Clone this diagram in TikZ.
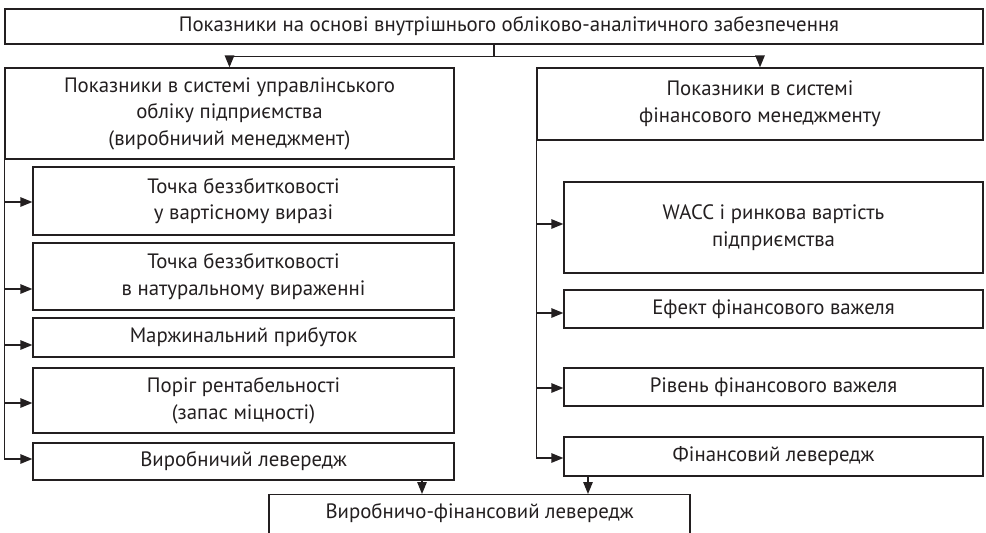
\documentclass[tikz,border=0pt]{standalone}
\usepackage{fontspec}
\setmainfont{PT Sans}
\usetikzlibrary{arrows.meta}
\definecolor{ink}{HTML}{231F20}
\tikzset{
  bx/.style={draw=ink, line width=1.3pt, text=ink, inner sep=0pt, align=center,
    font=\fontsize{20.8}{26.5}\selectfont},
  arr/.style={draw=ink, line width=1.3pt, -{Triangle[length=12pt,width=9.5pt]}},
  ln/.style={draw=ink, line width=1.3pt}
}
\begin{document}
\begin{tikzpicture}[x=1pt,y=-1pt]
\useasboundingbox (0,0) rectangle (986,533);
\node[bx, minimum width=978pt, minimum height=35pt] (top) at (494,26.5) {\hspace*{30pt}Показники на основі внутрішнього обліково-аналітичного забезпечення};
\node[bx, minimum width=449pt, minimum height=91pt] (L) at (229.5,113.5) {Показники в системі управлінського\\обліку підприємства\\(виробничий менеджмент)};
\node[bx, minimum width=446pt, minimum height=72pt] (R) at (760,104) {Показники в системі\\фінансового менеджменту};
\node[bx, minimum width=421pt, minimum height=68pt] (L1) at (243.5,201) {Точка беззбитковості\\у вартісному виразі};
\node[bx, minimum width=421pt, minimum height=67pt] (L2) at (243.5,276.5) {Точка беззбитковості\\в натуральному вираженні};
\node[bx, minimum width=421pt, minimum height=39pt] (L3) at (243.5,337.5) {Маржинальний прибуток};
\node[bx, minimum width=421pt, minimum height=65pt] (L4) at (243.5,400.5) {Поріг рентабельності\\(запас міцності)};
\node[bx, minimum width=421pt, minimum height=37pt] (L5) at (243.5,461.5) {Виробничий левередж};
\node[bx, minimum width=419pt, minimum height=91pt] (R1) at (773.5,227.5) {WACC і ринкова вартість\\підприємства};
\node[bx, minimum width=419pt, minimum height=38pt] (R2) at (773.5,309) {Ефект фінансового важеля};
\node[bx, minimum width=419pt, minimum height=38pt] (R3) at (773.5,387) {Рівень фінансового важеля};
\node[bx, minimum width=419pt, minimum height=39pt] (R4) at (773.5,456.5) {Фінансовий левередж};
\node[bx, minimum width=421pt, minimum height=80pt, anchor=north] (B) at (479.5,494) {};
\node[text=ink, font=\fontsize{20.8}{26.5}\selectfont, inner sep=0pt] (Bt) at (479.5,513) {Виробничо-фінансовий левередж};
% top connectors
\draw[ln] (top.south) -- ++(0,12) coordinate (j);
\draw[arr] (j) -| (L.north);
\draw[arr] (j) -| (R.north);
% left spine
\draw[arr] ([yshift=-1.5pt]L.west) |- ([yshift=-1pt]L1.west);
\draw[arr] ([yshift=-1.5pt]L.west) |- ([yshift=-12.5pt]L2.west);
\draw[arr] ([yshift=-1.5pt]L.west) |- ([yshift=-7.5pt]L3.west);
\draw[arr] ([yshift=-1.5pt]L.west) |- ([yshift=-2.5pt]L4.west);
\draw[arr] ([yshift=-1.5pt]L.west) |- ([yshift=2.5pt]L5.west);
% right spine
\draw[arr] (R.west) |- ([yshift=3.5pt]R1.west);
\draw[arr] (R.west) |- ([yshift=-4pt]R2.west);
\draw[arr] (R.west) |- ([yshift=-1pt]R3.west);
\draw[arr] (R.west) |- ([yshift=-1.5pt]R4.west);
% bottom
\draw[arr] ([xshift=178.5pt]L5.south) -- ([xshift=178.5pt]L5.south |- B.north);
\draw[arr] ([xshift=-185.5pt]R4.south) -- ([xshift=-185.5pt]R4.south |- B.north);
\end{tikzpicture}
\end{document}
